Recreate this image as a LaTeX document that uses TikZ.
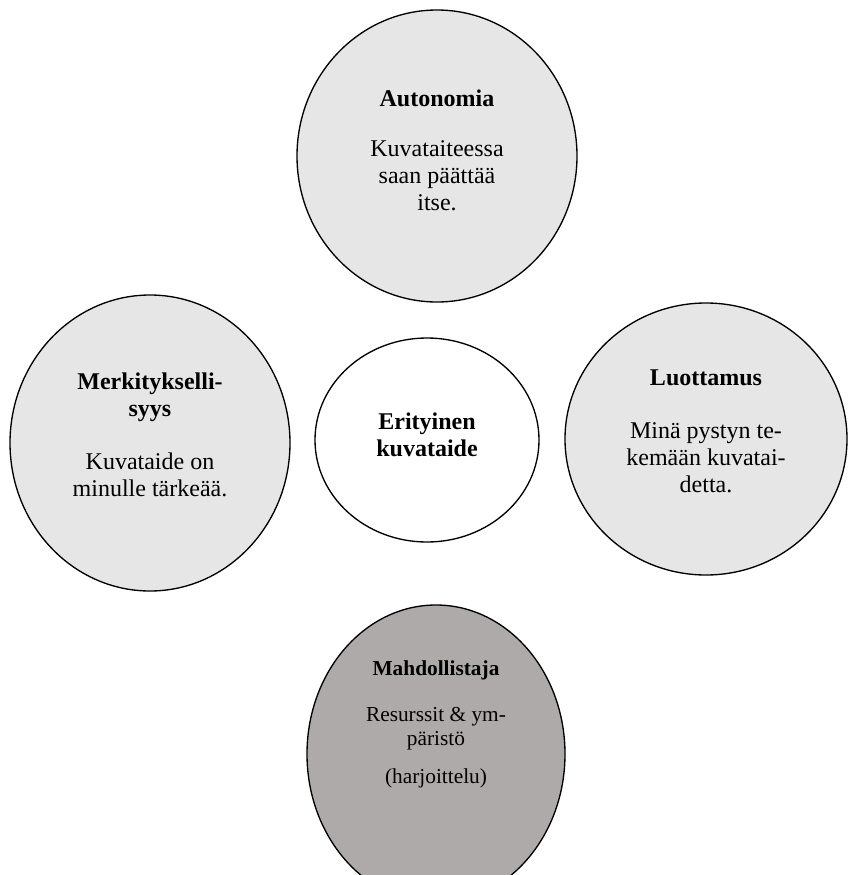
\documentclass[tikz,border=0pt]{standalone}
\usepackage{fontspec}
\setmainfont{Liberation Serif}
\usepackage{tikz}
\usetikzlibrary{shapes}
\definecolor{bglight}{RGB}{231,230,230}
\definecolor{bgdark}{RGB}{174,170,170}
\tikzstyle{bubble} = [ellipse, draw=black, line width=1pt, fill=bglight, inner sep=0pt]
\tikzstyle{core} = [bubble, fill=white]
\tikzstyle{enabler} = [bubble, fill=bgdark]
\tikzstyle{bubbletext} = [align=center, inner sep=0pt, font=\fontsize{18}{20}\selectfont]
\tikzstyle{enablertext} = [bubbletext, font=\fontsize{16}{18}\selectfont]

\begin{document}
\begin{tikzpicture}[x=0.75pt, y=-0.75pt]
\clip (0,0) rectangle (848,875);
% ellipses
\node[bubble, minimum width=210pt, minimum height=219pt] (auto) at (437,156) {};
\node[bubble, minimum width=210pt, minimum height=222pt] (merk) at (150,443) {};
\node[core, minimum width=168pt, minimum height=153pt] (erit) at (427,440) {};
\node[bubble, minimum width=211.5pt, minimum height=204pt] (luot) at (706,439) {};
\node[enabler, minimum width=193.5pt, minimum height=223.5pt] (mahd) at (436,754) {};
% texts
\node[bubbletext] (autotxt) at (437,150) {\textbf{Autonomia}\\[18pt]Kuvataiteessa\\saan päättää\\itse.};
\node[bubbletext] (merktxt) at (150,435) {\textbf{Merkitykselli-}\\\textbf{syys}\\[20pt]Kuvataide on\\minulle tärkeää.};
\node[bubbletext] (erittxt) at (427,435) {\textbf{Erityinen}\\\textbf{kuvataide}};
\node[bubbletext] (luottxt) at (706,431) {\textbf{Luottamus}\\[20pt]Minä pystyn te-\\kemään kuvatai-\\detta.};
\node[enablertext] (mahdtxt) at (436,724) {\textbf{Mahdollistaja}\\[17pt]Resurssit \& ym-\\päristö\\[10pt](harjoittelu)};
\end{tikzpicture}
\end{document}
